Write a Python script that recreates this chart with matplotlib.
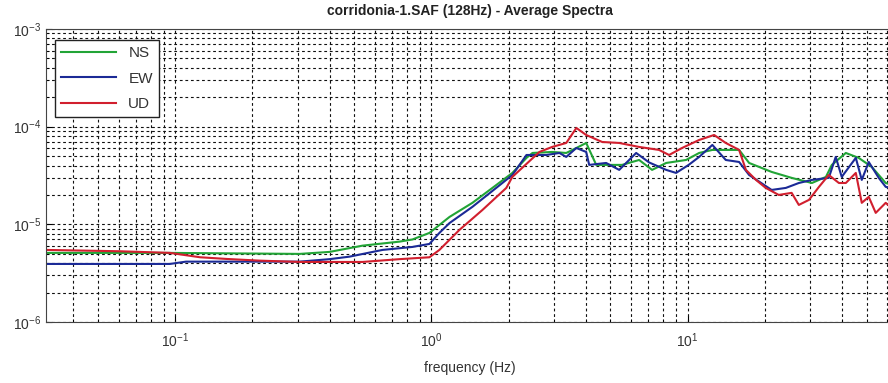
import matplotlib

matplotlib.use("Agg")
import matplotlib.pyplot as plt

plt.rcParams["font.family"] = ["Liberation Sans", "DejaVu Sans"]

# average spectra per component (frequency in Hz, amplitude)
ns_freq = [0.0313, 0.0952, 0.306, 0.40, 0.538, 0.75, 0.843, 0.982, 1.176, 1.445,
           1.73, 2.07, 2.35, 2.48, 2.96, 3.36, 3.68, 4.02, 4.40, 5.55, 6.47, 7.27,
           8.25, 9.87, 11.1, 12.5, 15.9, 17.4, 21.3, 25.5, 30.6, 34.7, 36.6, 41.5,
           46.6, 52.4, 59.4, 64.0]
ns_amp = [5.10e-6, 5.10e-6, 4.98e-6, 5.22e-6, 6.05e-6, 6.65e-6, 7.0e-6, 8.17e-6,
          1.19e-5, 1.66e-5, 2.36e-5, 3.36e-5, 4.79e-5, 5.38e-5, 5.51e-5, 5.38e-5,
          6.05e-5, 6.81e-5, 4.06e-5, 4.06e-5, 4.56e-5, 3.61e-5, 4.25e-5, 4.56e-5,
          5.38e-5, 5.78e-5, 5.78e-5, 4.25e-5, 3.44e-5, 2.99e-5, 2.65e-5, 3.06e-5,
          4.06e-5, 5.38e-5, 4.79e-5, 3.87e-5, 2.65e-5, 2.5e-5]

ew_freq = [0.0313, 0.0952, 0.11, 0.306, 0.40, 0.479, 0.644, 0.843, 0.982, 1.074,
           1.176, 1.445, 1.84, 2.07, 2.35, 2.64, 2.81, 3.16, 3.36, 3.68, 4.02, 4.13,
           4.81, 5.41, 6.30, 7.08, 8.25, 9.02, 10.1, 11.1, 12.5, 14.1, 15.9, 17.4,
           21.3, 24.2, 27.2, 30.6, 35.6, 37.9, 40.0, 45.4, 47.9, 51.0, 55.8, 59.4,
           64.0]
ew_amp = [3.93e-6, 3.93e-6, 4.15e-6, 4.15e-6, 4.4e-6, 4.67e-6, 5.47e-6, 5.87e-6,
          6.3e-6, 8.17e-6, 1.03e-5, 1.51e-5, 2.5e-5, 3.2e-5, 5.13e-5, 5.13e-5,
          5.13e-5, 5.38e-5, 4.9e-5, 6.05e-5, 5.51e-5, 4.06e-5, 4.25e-5, 3.61e-5,
          5.38e-5, 4.3e-5, 3.61e-5, 3.36e-5, 4.06e-5, 4.9e-5, 6.5e-5, 4.56e-5,
          4.35e-5, 3.2e-5, 2.25e-5, 2.36e-5, 2.65e-5, 2.85e-5, 2.99e-5, 4.9e-5,
          3.06e-5, 4.79e-5, 2.85e-5, 4.35e-5, 2.99e-5, 2.42e-5, 2.3e-5]

ud_freq = [0.0313, 0.0608, 0.0952, 0.125, 0.159, 0.213, 0.306, 0.538, 0.75, 0.982,
           1.074, 1.286, 1.58, 1.96, 2.07, 2.64, 2.96, 3.36, 3.68, 4.02, 4.64, 5.41,
           6.47, 7.74, 8.47, 9.52, 11.1, 12.7, 14.1, 15.9, 16.9, 18.5, 20.2, 22.7,
           25.5, 27.2, 29.8, 32.6, 35.6, 39.0, 41.5, 45.4, 47.9, 51.0, 54.3, 59.4,
           64.0]
ud_amp = [5.47e-6, 5.3e-6, 5.1e-6, 4.6e-6, 4.42e-6, 4.25e-6, 4.12e-6, 4.12e-6,
          4.4e-6, 4.6e-6, 5.47e-6, 8.77e-6, 1.40e-5, 2.36e-5, 3.06e-5, 5.51e-5,
          6.2e-5, 6.81e-5, 9.7e-5, 8.22e-5, 6.97e-5, 6.81e-5, 6.2e-5, 5.78e-5,
          5.13e-5, 6.05e-5, 7.31e-5, 8.22e-5, 6.81e-5, 5.78e-5, 3.61e-5, 2.85e-5,
          2.36e-5, 2.0e-5, 2.1e-5, 1.58e-5, 1.78e-5, 2.42e-5, 3.2e-5, 2.65e-5,
          2.65e-5, 3.36e-5, 1.66e-5, 1.91e-5, 1.31e-5, 1.66e-5, 1.4e-5]

fig = plt.figure(figsize=(8.88, 3.83), dpi=100)
ax = fig.add_axes([46 / 888, 1 - 322 / 383, 848 / 888, 293 / 383])

ax.plot(ns_freq, ns_amp, color="#22a436", lw=1.5, label="NS")
ax.plot(ew_freq, ew_amp, color="#1b2a96", lw=1.5, label="EW")
ax.plot(ud_freq, ud_amp, color="#d11f2e", lw=1.5, label="UD")

ax.set_xscale("log")
ax.set_yscale("log")
ax.set_xlim(1 / 32, 64)
ax.set_ylim(1e-6, 1e-3)
ax.grid(True, which="both", color="#111111", linestyle=(0, (2.5, 2.5)), linewidth=0.8)
ax.tick_params(which="both", direction="in", labelsize=10, labelcolor="#333333")
ax.tick_params(axis="x", which="major", pad=7)
ax.tick_params(which="major", length=4)
ax.tick_params(which="minor", length=2)
for side in ax.spines.values():
    side.set_color("#444444")

ax.set_xlabel("frequency (Hz)", fontsize=10, color="#333333", labelpad=8)
ax.set_title("corridonia-1.SAF (128Hz) - Average Spectra", fontsize=10,
             fontweight="bold", color="#222222", pad=10)

leg = ax.legend(loc="upper left", bbox_to_anchor=(9 / 848, 1 - 11 / 293),
                borderaxespad=0, fontsize=11, handlelength=3.6,
                labelspacing=0.75, fancybox=False, framealpha=1,
                edgecolor="#222222")
leg.get_frame().set_linewidth(1.0)
for txt in leg.get_texts():
    txt.set_color("#333333")

fig.savefig("out.png", dpi=100)
